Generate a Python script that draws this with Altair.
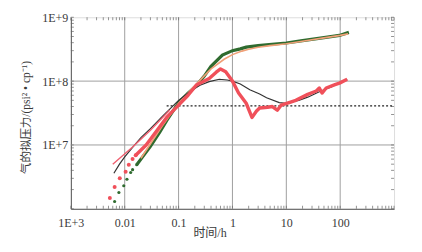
import altair as alt
import pandas as pd

# ---- data ----
green_dot_t = [0.0065, 0.0078, 0.0096, 0.011, 0.0129, 0.014, 0.0167]
green_dot_v = [1.3e6, 1.8e6, 2.3e6, 2.9e6, 3.7e6, 4.1e6, 4.9e6]

green_t = [0.0167, 0.02, 0.03, 0.045, 0.06, 0.1, 0.15, 0.215, 0.3, 0.4, 0.65, 1.0, 1.4, 1.8, 3, 4.8, 10, 20, 50, 97, 145]
green_v = [4.9e6, 6e6, 9.5e6, 1.6e7, 2.4e7, 4.6e7, 6.5e7, 8.5e7, 1.2e8, 1.7e8, 2.55e8, 3.0e8, 3.2e8, 3.4e8, 3.6e8, 3.75e8, 3.95e8, 4.3e8, 4.8e8, 5.2e8, 5.8e8]

orange_t = [0.02, 0.05, 0.1, 0.2, 0.4, 0.7, 1.0, 1.5, 2, 3, 5, 10, 20, 50, 100, 140]
orange_v = [6.2e6, 2e7, 4.5e7, 8.5e7, 1.55e8, 2.2e8, 2.6e8, 2.95e8, 3.15e8, 3.4e8, 3.6e8, 3.85e8, 4.2e8, 4.75e8, 5.2e8, 5.5e8]

red_dot_t = [0.0053, 0.0065, 0.0081, 0.0104, 0.0119, 0.014, 0.016]
red_dot_v = [1.48e6, 2.2e6, 3.0e6, 3.8e6, 4.9e6, 6.0e6, 6.9e6]

red_t = [0.016, 0.025, 0.04, 0.06, 0.1, 0.15, 0.215, 0.37, 0.5, 0.6, 0.75, 1.0, 1.3, 1.8, 2.3, 2.8, 3.2, 4.5, 5.5, 6.8, 8.0, 12, 15, 25, 36, 41, 46, 55, 80, 97, 135]
red_v = [6.9e6, 1e7, 1.7e7, 2.7e7, 4.2e7, 6e7, 8.7e7, 1.1e8, 1.38e8, 1.55e8, 1.4e8, 1.0e8, 6.5e7, 4.5e7, 2.7e7, 3.4e7, 3.8e7, 3.9e7, 4e7, 3.5e7, 4.2e7, 4.7e7, 5e7, 6.2e7, 7e7, 7.8e7, 6.5e7, 7.8e7, 8.8e7, 9.3e7, 1.07e8]

black_t = [0.0063, 0.008, 0.01, 0.014, 0.02, 0.03, 0.05, 0.1, 0.16, 0.25, 0.37, 0.57, 0.8, 1.0, 1.4, 2.1, 3.2, 4.3, 7.4, 10, 17, 25, 41, 70, 97, 135]
black_v = [3.6e6, 5e6, 6.5e6, 9.2e6, 1.3e7, 1.8e7, 2.8e7, 5e7, 6.8e7, 8.6e7, 9.8e7, 1.07e8, 1.04e8, 1.0e8, 9e7, 7.3e7, 6.3e7, 5.5e7, 4.6e7, 4.5e7, 5e7, 5.6e7, 6.8e7, 8.2e7, 9.4e7, 1.07e8]

pink_t = [0.006, 0.014, 0.03, 0.068]
pink_v = [5e6, 9.3e6, 1.7e7, 3.5e7]

flat_t = [0.06, 1000]
flat_v = [4.1e7, 4.1e7]

x_grid = [0.01, 0.1, 1, 10, 100]
y_grid = [1e7, 1e8]
x_label_vals = [0.001, 0.01, 0.1, 1, 10, 100]
y_label_vals = [1e7, 1e8, 1e9]

# minor/major tick positions on a log axis
x_minor = [m * 10.0 ** k for k in range(-3, 3) for m in range(1, 10)] + [1000]
y_minor = [m * 10.0 ** k for k in range(6, 9) for m in range(1, 10)] + [1e9]


def df(t, v):
    return pd.DataFrame({"t": t, "v": v})


W, H = 324, 192
xs = alt.Scale(type="log", domain=[0.001, 1000], nice=False)
ys = alt.Scale(type="log", domain=[1e6, 1e9], nice=False)
FONT = "Liberation Serif, Noto Sans CJK SC, serif"
TXT = "#3a3a3a"
TICK = "#666666"


def enc():
    return dict(
        x=alt.X("t:Q", scale=xs, axis=None),
        y=alt.Y("v:Q", scale=ys, axis=None),
    )


x_main_axis = alt.Axis(
    values=x_label_vals, format="~g",
    labelExpr="datum.value < 0.005 ? '1E+3' : datum.label",
    grid=False, ticks=False, domain=True, domainColor="#555555",
    labelFont=FONT, labelFontSize=12, labelColor=TXT, labelPadding=9,
    labelFlush=False, labelOverlap=False,
    title="时间/h", titleFont=FONT, titleFontSize=12, titleColor=TXT,
    titleFontWeight="normal", titleX=139, titleY=28, titleBaseline="alphabetic",
    titleAlign="center", titleAnchor="start",
)
y_main_axis = alt.Axis(
    values=y_label_vals,
    labelExpr="datum.value > 5e8 ? '1E+9' : (datum.value > 5e7 ? '1E+8' : '1E+7')",
    grid=False, ticks=False, domain=True, domainColor="#555555",
    labelFont=FONT, labelFontSize=12, labelColor=TXT, labelPadding=3,
    labelFlush=False, labelOverlap=False,
    title="气的拟压力/(psi² • cp⁻¹)", titleFont=FONT, titleFontSize=11.5,
    titleColor=TXT, titleFontWeight="normal", titleX=-44, titleY=100,
    titleAngle=-90, titleAlign="center", titleBaseline="middle",
)

vgrid = alt.Chart(pd.DataFrame({"t": x_grid})).mark_rule(color="#a0a0a0", strokeWidth=1).encode(
    x=alt.X("t:Q", scale=xs, axis=x_main_axis))
hgrid = alt.Chart(pd.DataFrame({"v": y_grid})).mark_rule(color="#a0a0a0", strokeWidth=1).encode(
    y=alt.Y("v:Q", scale=ys, axis=y_main_axis))

# inward axis ticks on all four edges
xt = pd.DataFrame({"t": x_minor})
yt = pd.DataFrame({"v": y_minor})
tick_bottom = alt.Chart(xt).mark_tick(orient="vertical", size=3, thickness=1, color=TICK).encode(
    x=alt.X("t:Q", scale=xs, axis=None), y=alt.value(H - 1.5))
tick_top = alt.Chart(xt).mark_tick(orient="vertical", size=3, thickness=1, color=TICK).encode(
    x=alt.X("t:Q", scale=xs, axis=None), y=alt.value(1.5))
tick_left = alt.Chart(yt).mark_tick(orient="horizontal", size=3, thickness=1, color=TICK).encode(
    y=alt.Y("v:Q", scale=ys, axis=None), x=alt.value(1.5))
tick_right = alt.Chart(yt).mark_tick(orient="horizontal", size=3, thickness=1, color=TICK).encode(
    y=alt.Y("v:Q", scale=ys, axis=None), x=alt.value(W - 1.5))

green_line = alt.Chart(df(green_t, green_v)).mark_line(color="#2f6b2f", strokeWidth=3.2).encode(**enc())
orange_line = alt.Chart(df(orange_t, orange_v)).mark_line(color="#f0a078", strokeWidth=1.6).encode(**enc())
red_line = alt.Chart(df(red_t, red_v)).mark_line(color="#f0505a", strokeWidth=3.4, strokeJoin="round").encode(**enc())
black_line = alt.Chart(df(black_t, black_v)).mark_line(color="#333333", strokeWidth=1.2).encode(**enc())
pink_line = alt.Chart(df(pink_t, pink_v)).mark_line(color="#f06070", strokeWidth=1.4).encode(**enc())
flat_line = alt.Chart(df(flat_t, flat_v)).mark_line(color="#222222", strokeWidth=1.2, strokeDash=[2, 2]).encode(**enc())
green_dots = alt.Chart(df(green_dot_t, green_dot_v)).mark_circle(color="#2f6b2f", size=10, opacity=1).encode(**enc())
red_dots = alt.Chart(df(red_dot_t, red_dot_v)).mark_circle(color="#f0505a", size=16, opacity=1).encode(**enc())

chart = alt.layer(
    vgrid, hgrid, tick_bottom, tick_top, tick_left, tick_right,
    flat_line, green_line, orange_line, black_line, red_line, pink_line,
    green_dots, red_dots,
).resolve_axis(x="independent", y="independent").properties(
    width=W, height=H,
    autosize=alt.AutoSizeParams(type="none"),
    padding={"left": 63, "top": 9, "right": 20, "bottom": 35},
).configure_view(stroke=None).configure(background="white")

chart.save("out.html", embed_options={"renderer": "svg", "actions": False})
